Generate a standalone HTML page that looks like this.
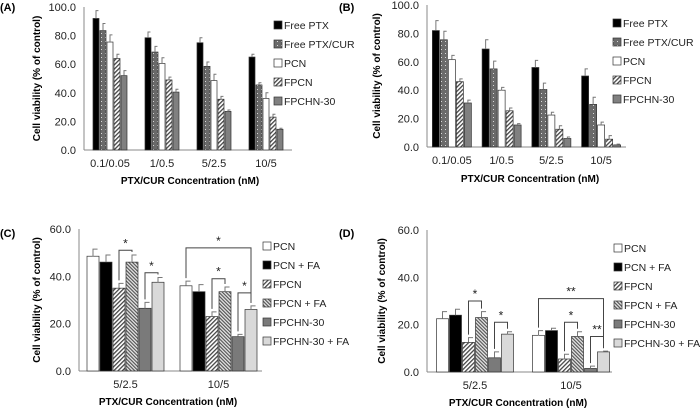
<!DOCTYPE html>
<html><head><meta charset="utf-8">
<style>
html,body{margin:0;padding:0;background:#fff;}
svg{display:block;font-family:"Liberation Sans",sans-serif;}
</style></head>
<body>
<svg id="fig" width="700" height="415" viewBox="0 0 700 415" xmlns="http://www.w3.org/2000/svg">
<defs>
<pattern id="dots" width="4" height="4" patternUnits="userSpaceOnUse"><rect width="4" height="4" fill="#6a6a6a"/><rect x="1" y="1" width="1" height="1" fill="#d8d8d8"/></pattern>
<pattern id="hatch" width="3" height="3" patternUnits="userSpaceOnUse" patternTransform="rotate(45)"><rect width="3" height="3" fill="#fff"/><rect width="1.3" height="3" fill="#444"/></pattern>
<pattern id="hatch2" width="2.5" height="2.5" patternUnits="userSpaceOnUse" patternTransform="rotate(-45)"><rect width="2.5" height="2.5" fill="#e8e8e8"/><rect width="1.2" height="2.5" fill="#555"/></pattern>
</defs>
</svg>
<script>
// Panel A
const catsA = ["0.1/0.05","1/0.5","5/2.5","10/5"];
const seriesA = ["Free PTX","Free PTX/CUR","PCN","FPCN","FPCHN-30"];
const valsA_freePTX = [92,78.5,75,65];
const valsA_freePTXCUR = [83.5,68.5,58.5,45.5];
const valsA_PCN = [75.5,60.5,48.5,36];
const valsA_FPCN = [64,49,35.5,23];
const valsA_FPCHN = [52,40.5,27,14.5];
const errA_freePTX = [5.5,4,3.5,2];
const errA_freePTXCUR = [5,4,3,1.5];
const errA_PCN = [5,4,4.5,4];
const errA_FPCN = [3,2,2,2];
const errA_FPCHN = [3.5,2,1,0.7];
const ticksA = ["0.0","20.0","40.0","60.0","80.0","100.0"];
// Panel B
const catsB = ["0.1/0.05","1/0.5","5/2.5","10/5"];
const valsB_freePTX = [82,69,56,50];
const valsB_freePTXCUR = [75.5,55,40.5,30];
const valsB_PCN = [61.5,40,22.5,15.5];
const valsB_FPCN = [46,25.5,12.5,5.5];
const valsB_FPCHN = [31,15.5,6,1.5];
const errB_freePTX = [7,6.5,5,5];
const errB_freePTXCUR = [6,5.5,4.5,5];
const errB_PCN = [3,2,2,2];
const errB_FPCN = [2,2,2.5,2.5];
const errB_FPCHN = [2,1,1,0.5];
// Panel C
const catsC = ["5/2.5","10/5"];
const seriesC = ["PCN","PCN + FA","FPCN","FPCN + FA","FPCHN-30","FPCHN-30 + FA"];
const valsC_PCN = [48.5,36];
const valsC_PCNFA = [46,33.5];
const valsC_FPCN = [35,23];
const valsC_FPCNFA = [46,33.5];
const valsC_FPCHN = [26.5,14.5];
const valsC_FPCHNFA = [37.5,26];
const errC_PCN = [3,2];
const errC_PCNFA = [3,3];
const errC_FPCN = [2,2];
const errC_FPCNFA = [3,2];
const errC_FPCHN = [2.5,1];
const errC_FPCHNFA = [2,1.5];
const ticksC = ["0.0","20.0","40.0","60.0"];
// Panel D
const valsD_PCN = [22.5,15.5];
const valsD_PCNFA = [24,17.5];
const valsD_FPCN = [12.5,5.5];
const valsD_FPCNFA = [23,15];
const valsD_FPCHN = [6,1.5];
const valsD_FPCHNFA = [16,8.5];
const errD_PCN = [3,2];
const errD_PCNFA = [2.5,1];
const errD_FPCN = [2,2];
const errD_FPCNFA = [2.5,2];
const errD_FPCHN = [2.5,1];
const errD_FPCHNFA = [1,0.3];
// significance brackets: [category, fromSeries, toSeries, value level, label]
const sigC = [[0,2,3,51,"*"],[0,4,5,41.5,"*"],[1,0,5,52,"*"],[1,2,3,39,"*"],[1,4,5,33,"*"]];
const sigD = [[0,2,3,30,"*"],[0,4,5,21,"*"],[1,0,5,31,"**"],[1,2,3,21,"*"],[1,4,5,15,"**"]];

const fillsAB = ["#000","url(#dots)","#fff","url(#hatch)","#808080"];
const fillsCD = ["#fff","#000","url(#hatch)","url(#hatch2)","#7a7a7a","#d9d9d9"];
const NS="http://www.w3.org/2000/svg";
const svg=document.getElementById('fig');
function mk(tag,attrs,parent,text){const e=document.createElementNS(NS,tag);for(const k in attrs)e.setAttribute(k,attrs[k]);if(text!==undefined)e.textContent=text;(parent||svg).appendChild(e);return e;}

function panel(p){
  const g=mk('g',{});
  
  
  const yS=v=>p.y0-(v/p.ymax)*(p.y0-p.y1);
  const band=(p.x1-p.x0)/p.cats.length;
  const xC=i=>p.x0+band*(i+0.5);
  const n=p.series.length;
  const bx=(i,s)=>xC(i)-n*p.bw/2+s*p.bw;
  const lab=mk('text',{x:p.labX,y:p.labY,'font-size':11,'font-weight':'bold'},g,'('+p.id+')');
  
  
  p.ticks.forEach((t,k)=>{const v=k*p.ymax/(p.ticks.length-1);
    const tt=mk('text',{x:p.x0-8,y:yS(v)+4,'font-size':11,'text-anchor':'end',fill:'#222'},g,t);
    
    });
  const ya=mk('line',{x1:p.x0,y1:p.y1,x2:p.x0,y2:p.y0,stroke:'#888','stroke-width':1},g);
  
  
  const xa=mk('line',{x1:p.x0,y1:p.y0,x2:p.xAxisEnd,y2:p.y0,stroke:'#888','stroke-width':1},g);
  
  
  p.cats.forEach((c,i)=>{const t=mk('text',{x:xC(i),y:p.y0+17,'font-size':11,'text-anchor':'middle',fill:'#222'},g,c);
    
    });
  p.series.forEach((sname,s)=>{
    p.vals[s].forEach((v,i)=>{
      const x=bx(i,s);
      const r=mk('rect',{x:x+0.5,y:yS(v),width:p.bw-1,height:p.y0-yS(v),fill:p.fills[s],stroke:'#333','stroke-width':0.7},g);
      
      
      const e=p.errs[s][i];const cx=x+p.bw/2;
      const el=mk('path',{d:`M${cx},${yS(v)} V${yS(v+e)} H${cx+p.bw*0.35}`,stroke:'#777','stroke-width':1,fill:'none'},g);
      
      
    });
  });
  (p.sig||[]).forEach(sg=>{
    const [i,a,b,lv,txt]=sg;const xa2=bx(i,a)+p.bw/2, xb=bx(i,b)+p.bw/2;
    const ya2=yS(lv);
    const ha=yS(p.vals[a][i]+p.errs[a][i])-3, hb=yS(p.vals[b][i]+p.errs[b][i])-3;
    const br=mk('path',{d:`M${xa2},${ha} V${ya2} H${xb} V${hb}`,stroke:'#444','stroke-width':1,fill:'none'},g);
    
    
    const st=mk('text',{x:(xa2+xb)/2,y:ya2-3,'font-size':12,'text-anchor':'middle',fill:'#222'},g,txt);
    
    
  });
  const yt=mk('text',{x:0,y:0,'font-size':10,'font-weight':'bold','text-anchor':'middle',transform:`translate(${p.yTitleX},${(p.y0+p.y1)/2}) rotate(-90)`},g,'Cell viability (% of control)');
  
  
  const xt=mk('text',{x:p.xTitleX,y:p.xTitleY,'font-size':10,'font-weight':'bold','text-anchor':'middle'},g,'PTX/CUR Concentration (nM)');
  
  
  p.series.forEach((sname,s)=>{
    const y=p.legY+s*p.legDy;
    const lg=mk('g',{},g);
    
    
    mk('rect',{x:p.legX,y:y-4,width:8,height:8,fill:p.fills[s],stroke:'#333','stroke-width':0.7},lg);
    mk('text',{x:p.legX+10,y:y+4,'font-size':10.5,fill:'#222'},lg,sname);
  });
}
panel({id:'A',cats:catsA,series:seriesA,fills:fillsAB,
  vals:[valsA_freePTX,valsA_freePTXCUR,valsA_PCN,valsA_FPCN,valsA_FPCHN],
  errs:[errA_freePTX,errA_freePTXCUR,errA_PCN,errA_FPCN,errA_FPCHN],
  ticks:ticksA,ymax:100,x0:84,x1:292,xAxisEnd:292,y0:150,y1:7,bw:7,labX:0,labY:11,
  yTitleX:40,xTitleX:190,xTitleY:184,legX:274,legY:25,legDy:19});
panel({id:'B',cats:catsB,series:seriesA,fills:fillsAB,
  vals:[valsB_freePTX,valsB_freePTXCUR,valsB_PCN,valsB_FPCN,valsB_FPCHN],
  errs:[errB_freePTX,errB_freePTXCUR,errB_PCN,errB_FPCN,errB_FPCHN],
  ticks:ticksA,ymax:100,x0:427,x1:626,xAxisEnd:626,y0:147,y1:5,bw:8,labX:339,labY:11,
  yTitleX:380,xTitleX:530,xTitleY:182,legX:613,legY:23,legDy:19});
panel({id:'C',cats:catsC,series:seriesC,fills:fillsCD,
  vals:[valsC_PCN,valsC_PCNFA,valsC_FPCN,valsC_FPCNFA,valsC_FPCHN,valsC_FPCHNFA],
  errs:[errC_PCN,errC_PCNFA,errC_FPCN,errC_FPCNFA,errC_FPCHN,errC_FPCHNFA],
  ticks:ticksC,ymax:60,x0:79,x1:265,xAxisEnd:262,y0:371,y1:229,bw:13,sig:sigC,labX:0,labY:237,
  yTitleX:40,xTitleX:168,xTitleY:405,legX:263,legY:246,legDy:19});
panel({id:'D',cats:catsC,series:seriesC,fills:fillsCD,
  vals:[valsD_PCN,valsD_PCNFA,valsD_FPCN,valsD_FPCNFA,valsD_FPCHN,valsD_FPCHNFA],
  errs:[errD_PCN,errD_PCNFA,errD_FPCN,errD_FPCNFA,errD_FPCHN,errD_FPCHNFA],
  ticks:ticksC,ymax:60,x0:427,x1:619,xAxisEnd:612,y0:372,y1:230,bw:13,sig:sigD,labX:339,labY:237,
  yTitleX:385,xTitleX:518,xTitleY:406,legX:614,legY:248,legDy:19});
</script>
</body></html>
